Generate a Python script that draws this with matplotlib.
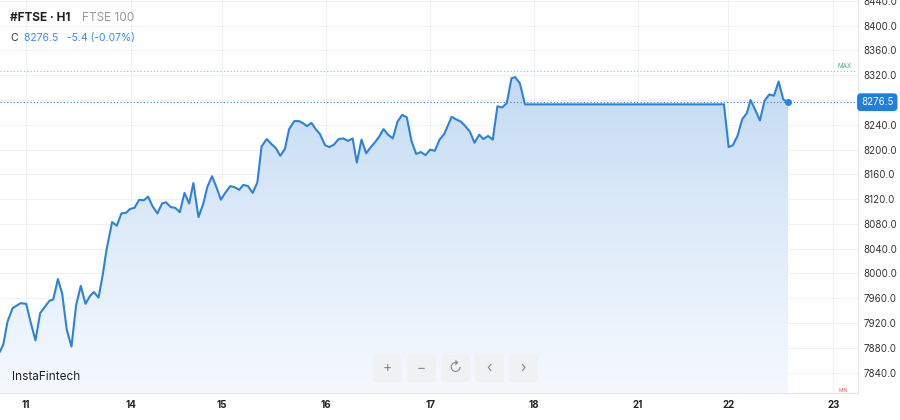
import numpy as np
import matplotlib
matplotlib.use("Agg")
import matplotlib.pyplot as plt
from matplotlib.patches import FancyBboxPatch, Polygon

plt.rcParams['font.family'] = ['Inter', 'DejaVu Sans']

# hours since the first bar, and the H1 close prices
hours = [0.0, 0.7, 1.6, 2.7, 4.4, 5.6, 6.6, 7.6, 8.6, 9.6, 10.6, 11.4, 12.4, 13.3,
         14.3, 15.3, 16.3, 17.3, 18.3, 19.3, 20.1, 21.1, 22.0, 22.8, 24.0, 25.0,
         26.0, 27.0, 27.8, 28.8, 29.8, 30.8, 31.7, 32.7, 33.7, 34.7, 35.5, 36.6,
         37.5, 38.5, 39.5, 40.5, 41.4, 42.5, 43.5, 44.4, 45.4, 46.4, 47.3, 48.2,
         49.3, 50.3, 51.2, 52.1, 53.1, 54.1, 55.1, 56.0, 57.1, 58.1, 59.1, 60.0,
         61.0, 61.9, 63.0, 64.0, 64.8, 65.7, 66.7, 67.5, 68.5, 69.6, 70.5, 71.5,
         72.5, 73.5, 74.5, 75.5, 76.4, 77.4, 78.4, 79.4, 80.4, 81.2, 82.1, 83.1,
         84.1, 85.1, 86.1, 87.1, 88.1, 89.1, 90.1, 91.1, 92.1, 93.1, 94.1, 95.1,
         96.7, 97.6, 98.7, 99.6, 100.6, 101.6, 102.6, 103.5, 104.5, 105.5, 106.5,
         107.5, 108.5, 109.5, 110.3, 111.3, 112.4, 155.0, 156.0, 156.9, 157.9,
         158.9, 159.9, 160.7, 161.7, 162.7, 163.7, 164.7, 165.7, 166.7, 167.7, 168.7]
prices = [7874, 7885, 7922, 7944, 7952, 7951, 7920, 7892, 7936, 7946, 7956, 7958,
          7991, 7968, 7909, 7882, 7949, 7980, 7951, 7964, 7970, 7961, 7998, 8038,
          8083, 8077, 8097, 8098, 8104, 8106, 8119, 8118, 8124, 8108, 8097, 8113,
          8115, 8107, 8106, 8099, 8130, 8113, 8146, 8091, 8112, 8140, 8157, 8138,
          8119, 8130, 8141, 8139, 8135, 8143, 8141, 8130, 8147, 8205, 8217, 8209,
          8202, 8190, 8201, 8233, 8246, 8246, 8243, 8238, 8243, 8234, 8225, 8207,
          8204, 8208, 8217, 8218, 8214, 8218, 8179, 8216, 8194, 8204, 8213, 8221,
          8233, 8224, 8218, 8245, 8256, 8252, 8214, 8193, 8196, 8191, 8200, 8198,
          8216, 8225, 8253, 8249, 8245, 8238, 8229, 8211, 8224, 8217, 8222, 8216,
          8270, 8268, 8275, 8315, 8317, 8307, 8273, 8273, 8204, 8207, 8222, 8249,
          8259, 8280, 8264, 8247, 8279, 8289, 8287, 8310, 8281, 8276.5]

day_hours = [5.6, 28.1, 47.5, 69.8, 92.1, 114.3, 136.6, 155.9, 178.4]
day_labels = ['11', '14', '15', '16', '17', '18', '21', '22', '23']
price_ticks = list(range(7840, 8441, 40))
last_price = 8276.5
max_level = 8327
y_low, y_high = 7807, 8441.5
x_end = 183.7

line_col = '#2e82da'
grid_col = '#eef1f5'

fig = plt.figure(figsize=(9, 4.2), dpi=100)
ax = fig.add_axes([0, 27 / 420, 858 / 900, 393 / 420])
ax.set_xlim(0, x_end)
ax.set_ylim(y_low, y_high)

for p in price_ticks:
    ax.axhline(p, color=grid_col, lw=0.8, zorder=0)
for d in day_hours:
    ax.axvline(d, color=grid_col, lw=0.8, zorder=0)

# gradient fill under the line
grad = np.linspace(0, 1, 256).reshape(-1, 1)
cmap = matplotlib.colors.LinearSegmentedColormap.from_list(
    'fill', ['#f5f9fe', '#d9e8f8', '#b5d1f0'])
img = ax.imshow(grad, cmap=cmap, aspect='auto', origin='lower',
                extent=[0, x_end, y_low, y_high], zorder=1)
verts = [(hours[0], y_low)] + list(zip(hours, prices)) + [(hours[-1], y_low)]
clip = Polygon(verts, closed=True, transform=ax.transData)
img.set_clip_path(clip)

ax.plot(hours, prices, color=line_col, lw=1.5, zorder=3, solid_joinstyle='round')
ax.plot(hours[-1], prices[-1], 'o', color=line_col, ms=4, zorder=4)

ax.axhline(last_price, color=line_col, lw=0.8, ls=(0, (1, 2)), zorder=2)
ax.axhline(max_level, xmax=855 / 858, color='#86c7c4', lw=0.8, ls=(0, (1, 2)), zorder=2)
ax.text(845 / 858, max_level + 3, 'MAX', transform=ax.get_yaxis_transform(),
        color='#4cb07a', fontsize=4.5, ha='center', va='bottom')
ax.text(843 / 858, y_low + 0.5, 'MIN', transform=ax.get_yaxis_transform(),
        color='#e06060', fontsize=3.5, ha='center', va='bottom')

for s in ['top', 'left']:
    ax.spines[s].set_visible(False)
for s in ['right', 'bottom']:
    ax.spines[s].set_color('#e3e7ec')
    ax.spines[s].set_linewidth(0.8)

ax.yaxis.tick_right()
ax.set_yticks(price_ticks)
# the 8280 label sits under the current price tag, as in the original
ax.set_yticklabels(['' if p == 8280 else f'{p:.1f}' for p in price_ticks],
                   fontsize=7, color='#333333')
ax.set_xticks(day_hours)
ax.set_xticklabels(day_labels, fontsize=7, color='#222222', fontweight='bold')
ax.tick_params(axis='both', length=0, pad=5)
ax.tick_params(axis='y', pad=4)

# current price tag on the axis
ax.text(1.0 + 3 / 858, last_price, f'{last_price:.1f}', transform=ax.get_yaxis_transform(),
        fontsize=7, color='white', ha='left', va='center', zorder=6,
        bbox=dict(boxstyle='round,pad=0.4,rounding_size=0.4', fc='#1f7fe0', ec='none'),
        clip_on=False)

# header
fig.text(10 / 900, 1 - 18 / 420, '#FTSE · H1', fontsize=8.5, fontweight='bold',
         color='#222222', va='center')
fig.text(82 / 900, 1 - 18 / 420, 'FTSE 100', fontsize=8.5, color='#999999', va='center')
fig.text(10 / 900, 1 - 38 / 420, 'C', fontsize=7.5, color='#333333', va='center')
fig.text(24 / 900, 1 - 38 / 420, '8276.5   -5.4 (-0.07%)', fontsize=7.5,
         color='#3a8ee6', va='center')
fig.text(12 / 900, 1 - 377 / 420, 'InstaFintech', fontsize=8.5, color='#222222',
         va='center')

# zoom / navigation buttons
btn_syms = ['+', '−', '↻', '‹', '›']
for i, sym in enumerate(btn_syms):
    x0 = 373 + i * 34
    fig.patches.append(FancyBboxPatch(
        ((x0) / 900, 1 - 382 / 420), 29 / 900, 27 / 420,
        boxstyle='round,pad=0,rounding_size=0.006', transform=fig.transFigure,
        fc='#f0f1f3', ec='none', zorder=5))
    fig.text((x0 + 14.5) / 900, 1 - 368 / 420, sym, fontsize=10, color='#888888',
             ha='center', va='center', zorder=6)

fig.savefig('out.png', dpi=100)
